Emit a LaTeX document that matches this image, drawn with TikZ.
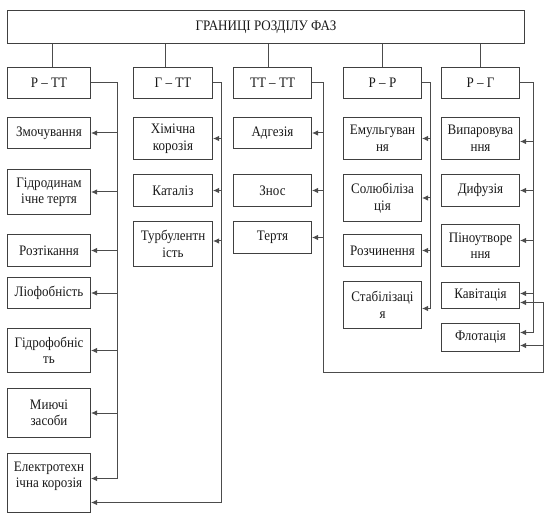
\documentclass[tikz,border=0pt]{standalone}
\usepackage{fontspec}
\setmainfont[FakeStretch=0.9]{Liberation Serif}
\usetikzlibrary{arrows.meta}
\begin{document}
\begin{tikzpicture}[x=1pt,y=-1pt,
  bx/.style={draw=black!75, line width=1pt, anchor=north west, align=center,
    inner sep=1pt, font=\fontsize{14.5}{16.5}\selectfont, text=black!90},
  ln/.style={draw=black!70, line width=1pt},
  arr/.style={ln, -{Latex[length=6pt,width=5.5pt]}}]
\useasboundingbox (0,0) rectangle (556,518);
% top
\node[bx, minimum width=517pt, minimum height=33pt] (top) at (7,10) {ГРАНИЦІ РОЗДІЛУ ФАЗ};
% categories
\node[bx, minimum width=83pt, minimum height=31pt] (rtt) at (7,67) {Р – ТТ};
\node[bx, minimum width=79pt, minimum height=31pt] (gtt) at (133,67) {Г – ТТ};
\node[bx, minimum width=78pt, minimum height=31pt] (tttt) at (233,67) {ТТ – ТТ};
\node[bx, minimum width=78pt, minimum height=31pt] (rr) at (343,67) {Р – Р};
\node[bx, minimum width=78pt, minimum height=31pt] (rg) at (441,67) {Р – Г};
% column 1
\node[bx, minimum width=83pt, minimum height=31pt] (zm) at (7,117) {Змочування};
\node[bx, minimum width=83pt, minimum height=45pt] (gd) at (7,169) {Гідродинам\\ічне тертя};
\node[bx, minimum width=83pt, minimum height=32pt] (rz) at (7,234) {Розтікання};
\node[bx, minimum width=83pt, minimum height=31pt] (lf) at (7,277) {Ліофобність};
\node[bx, minimum width=83pt, minimum height=44pt] (gf) at (7,328) {Гідрофобніс\\ть};
\node[bx, minimum width=83pt, minimum height=49pt] (mz) at (7,388) {Миючі\\засоби};
\node[bx, minimum width=83pt, minimum height=59pt] (el) at (7,453) {Електротехн\\ічна корозія\\\mbox{}};
% column 2
\node[bx, minimum width=79pt, minimum height=42pt] (hk) at (133,117) {Хімічна\\корозія};
\node[bx, minimum width=79pt, minimum height=32pt] (kt) at (133,174) {Каталіз};
\node[bx, minimum width=79pt, minimum height=45pt] (tb) at (133,221) {Турбулентн\\ість};
% column 3
\node[bx, minimum width=78pt, minimum height=31pt] (ad) at (233,117) {Адгезія};
\node[bx, minimum width=78pt, minimum height=32pt] (zn) at (233,174) {Знос};
\node[bx, minimum width=78pt, minimum height=32pt] (tr) at (233,221) {Тертя};
% column 4
\node[bx, minimum width=78pt, minimum height=42pt] (em) at (343,117) {Емульгуван\\ня};
\node[bx, minimum width=78pt, minimum height=47pt] (sl) at (343,174) {Солюбіліза\\ція};
\node[bx, minimum width=78pt, minimum height=32pt] (rc) at (343,234) {Розчинення};
\node[bx, minimum width=78pt, minimum height=47pt] (st) at (343,281) {Стабілізаці\\я};
% column 5
\node[bx, minimum width=78pt, minimum height=42pt] (vp) at (441,117) {Випаровува\\ння};
\node[bx, minimum width=78pt, minimum height=32pt] (df) at (441,174) {Дифузія};
\node[bx, minimum width=78pt, minimum height=42pt] (pn) at (441,224) {Піноутворе\\ння};
\node[bx, minimum width=78pt, minimum height=26pt] (kv) at (441,282) {Кавітація};
\node[bx, minimum width=78pt, minimum height=28pt] (fl) at (441,323) {Флотація};
% stubs from top
\draw[ln] ([xshift=3.5pt]rtt.north) -- ([xshift=3.5pt]rtt.north |- top.south);
\draw[ln] ([xshift=-7.5pt]gtt.north) -- ([xshift=-7.5pt]gtt.north |- top.south);
\draw[ln] ([xshift=-4pt]tttt.north) -- ([xshift=-4pt]tttt.north |- top.south);
\draw[ln] (rr.north) -- (rr.north |- top.south);
\draw[ln] (rg.north) -- (rg.north |- top.south);
% bus x positions
\coordinate (b1) at (117,0);
\coordinate (b2) at (221,0);
\coordinate (b3) at (323,0);
\coordinate (b4) at (430,0);
\coordinate (b5) at (533,0);
\coordinate (b6) at (543,372);
% special arrow points
\coordinate (el1) at ([yshift=4.5pt]el.east);
\coordinate (el2) at ([yshift=-19.5pt]el.east);
\coordinate (kv1) at ([yshift=2pt]kv.east);
\coordinate (kv2) at ([yshift=-7pt]kv.east);
\coordinate (fl1) at ([yshift=5pt]fl.east);
\coordinate (fl2) at ([yshift=-8pt]fl.east);
\coordinate (st1) at ([yshift=-3.5pt]st.east);
\coordinate (pn1) at ([yshift=5pt]pn.east);
\coordinate (vp1) at ([yshift=-3pt]vp.east);
\coordinate (tb1) at ([yshift=3pt]tb.east);
% Р – ТТ
\foreach \t in {zm,gd,rz,lf,gf,mz,el1}
  \draw[arr] (rtt.east) -| (b1 |- \t) -- (\t);
% Г – ТТ
\foreach \t in {hk,kt,tb1,el2}
  \draw[arr] (gtt.east) -| (b2 |- \t) -- (\t);
% ТТ – ТТ
\foreach \t in {ad,zn,tr}
  \draw[arr] (tttt.east) -| (b3 |- \t) -- (\t);
\draw[arr] (tttt.east) -| (b3 |- b6) -- (b6) -- (b6 |- kv2) -- (kv2);
\draw[arr] (b6 |- fl2) -- (fl2);
% Р – Р
\foreach \t in {em,sl,rc,st1}
  \draw[arr] (rr.east) -| (b4 |- \t) -- (\t);
% Р – Г
\foreach \t in {vp1,df,pn1,kv1,fl1}
  \draw[arr] (rg.east) -| (b5 |- \t) -- (\t);
\end{tikzpicture}
\end{document}
